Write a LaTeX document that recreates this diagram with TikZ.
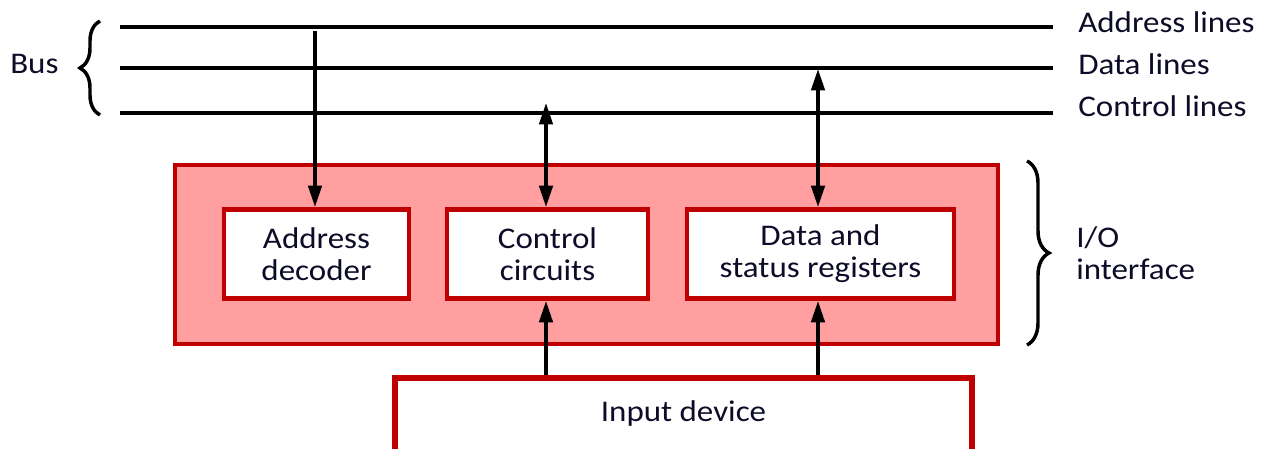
\documentclass[tikz,border=0pt]{standalone}
\usepackage{fontspec}
\setmainfont[FakeStretch=1.1]{Carlito}
\usetikzlibrary{arrows.meta,decorations.pathreplacing}
\definecolor{boxred}{RGB}{192,0,0}
\definecolor{pinkfill}{RGB}{255,159,159}
\definecolor{txtcol}{RGB}{12,12,40}
\tikzset{
  txt/.style={font=\fontsize{22.5pt}{24pt}\selectfont, text=txtcol, inner sep=0pt},
  outerbox/.style={draw=boxred, fill=pinkfill, line width=3pt},
  innerbox/.style={draw=boxred, fill=white, line width=3.4pt, align=center,
    font=\fontsize{22.5pt}{24pt}\selectfont, text=txtcol, inner sep=0pt},
  busline/.style={line width=2.6pt, black},
  arr/.style={line width=2.6pt, -{Triangle[length=16pt,width=10pt]}},
  darr/.style={line width=2.6pt, {Triangle[length=16pt,width=10pt]}-{Triangle[length=16pt,width=10pt]}},
  bracestyle/.style={line width=2.6pt, decorate, decoration={brace, amplitude=#1}},
}
\begin{document}
\begin{tikzpicture}[x=0.75pt, y=-0.75pt]
\clip (0,0) rectangle (1270,449);
\fill[white] (0,0) rectangle (1270,449);

% bus lines
\coordinate (al0) at (120,27);  \coordinate (al1) at (1053,27);
\coordinate (dl0) at (120,68);  \coordinate (dl1) at (1053,68);
\coordinate (cl0) at (120,113); \coordinate (cl1) at (1053,113);
\draw[busline] (al0) -- (al1);
\draw[busline] (dl0) -- (dl1);
\draw[busline] (cl0) -- (cl1);

\node[txt, anchor=base west] (alab) at (1078,33) {Address lines};
\node[txt, anchor=base west] (dlab) at (1078,75) {Data lines};
\node[txt, anchor=base west] (clab) at (1078,117) {Control lines};

% bus brace
\coordinate (bb0) at (100,115);
\coordinate (bb1) at (100,21);
\draw[bracestyle=15pt] (bb0) -- (bb1);
\node[txt, anchor=base west] (bus) at (10,74) {Bus};

% I/O interface
\node[outerbox, minimum width=617.25pt, minimum height=134.5pt] (outer) at (586,254.3) {};
\node[innerbox, minimum width=138.75pt, minimum height=67pt] (adec) at (316.5,254) {Address\\decoder};
\node[innerbox, minimum width=150.75pt, minimum height=67pt] (ctrl) at (547.5,254) {Control\\circuits};
\node[innerbox, minimum width=200.25pt, minimum height=67pt] (data) at (820.5,254) {Data and\\status registers};

\coordinate (ib0) at (1027,161);
\coordinate (ib1) at (1027,345);
\draw[bracestyle=16.5pt] (ib0) -- (ib1);
\node[txt, anchor=west, align=left] (iolab) at (1076,253) {I/O\\interface};

% input device
\node[draw=boxred, fill=white, line width=4.2pt, minimum width=432.75pt, minimum height=75pt] (input) at (683.5,428) {};
\node[txt, anchor=base] (inlab) at (683.5,421) {Input device};

% connectors
\coordinate (a1) at (315,31);
\coordinate (c1) at (546,103);
\coordinate (d1) at (818,69);
\draw[arr] (a1) -- (a1 |- adec.north);
\draw[darr] (c1) -- (c1 |- ctrl.north);
\draw[darr] (d1) -- (d1 |- data.north);
\draw[arr] (c1 |- input.north) -- (c1 |- ctrl.south);
\draw[arr] (d1 |- input.north) -- (d1 |- data.south);
\end{tikzpicture}
\end{document}
